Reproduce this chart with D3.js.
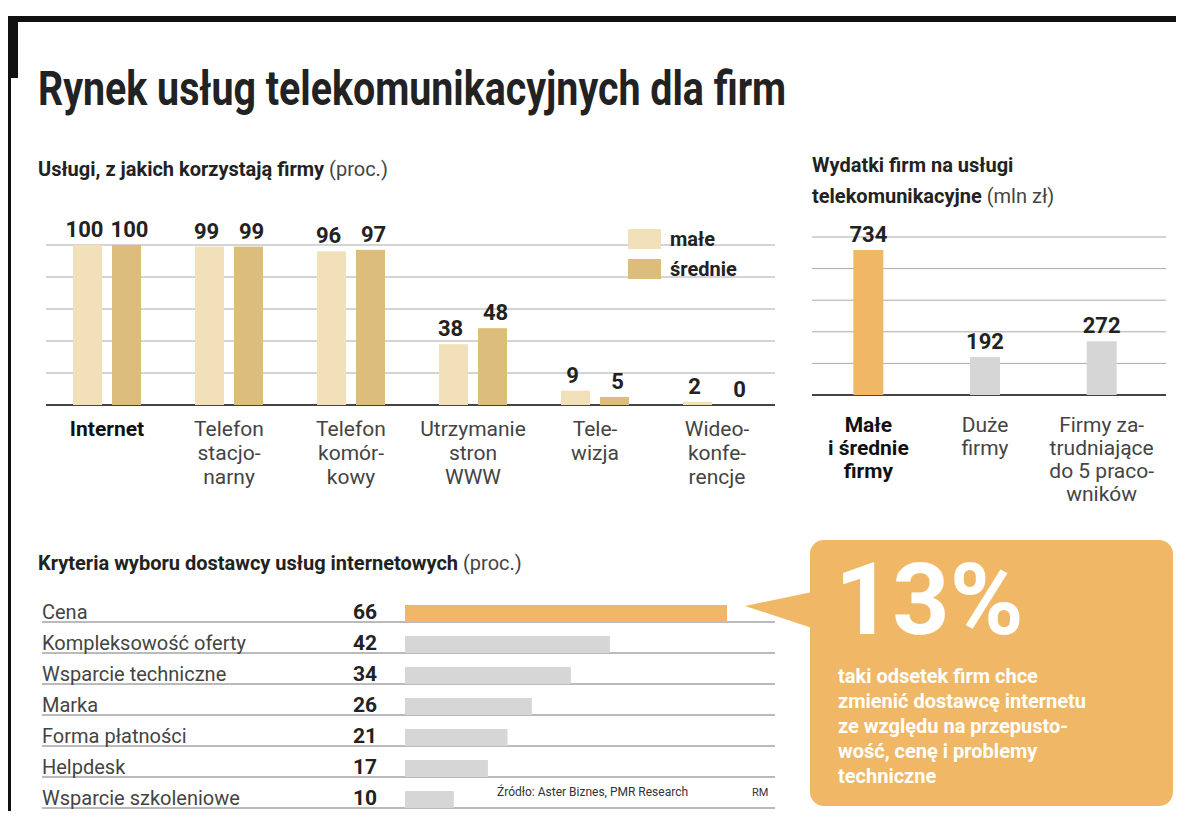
<!DOCTYPE html>
<html><head><meta charset="utf-8">
<script src="https://cdn.jsdelivr.net/npm/d3@7"></script>
<style>body{margin:0;background:#fff}text{font-family:"Roboto",sans-serif}</style>
</head><body>
<svg id="c" width="1200" height="816"></svg>
<script>
// dane
var services = [["Internet"], ["Telefon", "stacjo-", "narny"], ["Telefon", "komór-", "kowy"], ["Utrzymanie", "stron", "WWW"], ["Tele-", "wizja"], ["Wideo-", "konfe-", "rencje"]];
var smallFirms = [100, 99, 96, 38, 9, 2];
var mediumFirms = [100, 99, 97, 48, 5, 0];
var spendCats = [["Małe", "i średnie", "firmy"], ["Duże", "firmy"], ["Firmy za-", "trudniające", "do 5 praco-", "wników"]];
var spendValues = [734, 192, 272];
var criteria = ["Cena", "Kompleksowość oferty", "Wsparcie techniczne", "Marka", "Forma płatności", "Helpdesk", "Wsparcie szkoleniowe"];
var criteriaValues = [66, 42, 34, 26, 21, 17, 10];

var svg = d3.select("#c");
var F = "Roboto, sans-serif";

// ramka
svg.append("rect").attr("x", 8).attr("y", 16).attr("width", 1168).attr("height", 6).attr("fill", "#111");
svg.append("rect").attr("x", 8).attr("y", 16).attr("width", 10).attr("height", 62).attr("fill", "#111");
svg.append("rect").attr("x", 8).attr("y", 16).attr("width", 3).attr("height", 795).attr("fill", "#111");
svg.append("text").attr("transform", "translate(38,105) scale(0.82,1)").attr("font-size", 48).attr("font-weight", "bold")
    .style("font-family", F).attr("fill", "#222").text("Rynek usług telekomunikacyjnych dla firm");

function title(x, y, bold, light) {
    var t = svg.append("text").attr("x", x).attr("y", y).attr("font-size", 20).style("font-family", F).attr("fill", "#222");
    t.append("tspan").attr("font-weight", "bold").text(bold);
    if (light) t.append("tspan").attr("fill", "#444").text(light);
}

// wykres 1
title(38, 176, "Usługi, z jakich korzystają firmy ", "(proc.)");
var y1 = d3.scaleLinear().domain([0, 100]).range([405, 245]);
var x1 = d3.scaleBand().domain(d3.range(6)).range([46, 778]);
[0, 20, 40, 60, 80, 100].forEach(function (v) {
    svg.append("line").attr("x1", 46).attr("x2", 775).attr("y1", y1(v)).attr("y2", y1(v))
        .attr("stroke", v ? "#aaa" : "#444").attr("stroke-width", v ? 1 : 2);
});
var g1 = svg.append("g");
[[smallFirms, "#f1e0ba", -34], [mediumFirms, "#dcbd7c", 5]].forEach(function (s) {
    g1.selectAll(null).data(s[0]).enter().append("rect")
        .attr("x", function (d, i) { return x1(i) + x1.bandwidth() / 2 + s[2]; })
        .attr("y", function (d) { return y1(d); })
        .attr("width", 29).attr("height", function (d) { return 405 - y1(d); })
        .attr("fill", s[1]);
    g1.selectAll(null).data(s[0]).enter().append("text")
        .attr("x", function (d, i) { return x1(i) + x1.bandwidth() / 2 + s[2] + 14.5 + (s[2] < 0 ? -3 : 3); })
        .attr("y", function (d) { return y1(d) - 8; })
        .attr("text-anchor", "middle").attr("font-size", 22).attr("font-weight", "bold")
        .style("font-family", F).attr("fill", "#222").text(function (d) { return d; });
});
services.forEach(function (lines, i) {
    lines.forEach(function (l, k) {
        svg.append("text").attr("x", x1(i) + x1.bandwidth() / 2).attr("y", 436 + k * 24)
            .attr("text-anchor", "middle").attr("font-size", 21).style("font-family", F)
            .attr("font-weight", i === 0 ? "bold" : "normal").attr("fill", i === 0 ? "#111" : "#444").text(l);
    });
});
[["małe", "#f1e0ba", 229], ["średnie", "#dcbd7c", 259]].forEach(function (l) {
    svg.append("rect").attr("x", 628).attr("y", l[2]).attr("width", 33).attr("height", 20).attr("fill", l[1]);
    svg.append("text").attr("x", 670).attr("y", l[2] + 17).attr("font-size", 20).attr("font-weight", "bold")
        .style("font-family", F).attr("fill", "#222").text(l[0]);
});

// wykres 2
title(812, 172, "Wydatki firm na usługi");
title(812, 203, "telekomunikacyjne ", "(mln zł)");
var y2 = d3.scaleLinear().domain([0, 800]).range([395, 237]);
var x2 = d3.scaleBand().domain(d3.range(3)).range([810, 1160]);
d3.range(0, 801, 160).forEach(function (v) {
    svg.append("line").attr("x1", 812).attr("x2", 1166).attr("y1", y2(v)).attr("y2", y2(v))
        .attr("stroke", v ? "#aaa" : "#444").attr("stroke-width", v ? 1 : 2);
});
svg.selectAll(null).data(spendValues).enter().append("rect")
    .attr("x", function (d, i) { return x2(i) + x2.bandwidth() / 2 - 15; })
    .attr("y", function (d) { return y2(d); }).attr("width", 30)
    .attr("height", function (d) { return 395 - y2(d); })
    .attr("fill", function (d, i) { return i ? "#d6d6d6" : "#f0b866"; });
svg.selectAll(null).data(spendValues).enter().append("text")
    .attr("x", function (d, i) { return x2(i) + x2.bandwidth() / 2; })
    .attr("y", function (d) { return y2(d) - 8; }).attr("text-anchor", "middle")
    .attr("font-size", 22).attr("font-weight", "bold").style("font-family", F).attr("fill", "#222")
    .text(function (d) { return d; });
spendCats.forEach(function (lines, i) {
    lines.forEach(function (l, k) {
        svg.append("text").attr("x", x2(i) + x2.bandwidth() / 2).attr("y", 432 + k * 23)
            .attr("text-anchor", "middle").attr("font-size", 21).style("font-family", F)
            .attr("font-weight", i === 0 ? "bold" : "normal").attr("fill", i === 0 ? "#111" : "#444").text(l);
    });
});

// wykres 3
title(38, 570, "Kryteria wyboru dostawcy usług internetowych ", "(proc.)");
var y3 = d3.scaleBand().domain(d3.range(7)).range([597, 814]);
var x3 = d3.scaleLinear().domain([0, 66]).range([405, 727]);
criteria.forEach(function (c, i) {
    var y = y3(i), b = y + y3.bandwidth() - 6;
    svg.append("line").attr("x1", 42).attr("x2", 775).attr("y1", b).attr("y2", b).attr("stroke", "#777");
    svg.append("rect").attr("x", 405).attr("y", b - 17).attr("width", x3(criteriaValues[i]) - 405).attr("height", 17)
        .attr("fill", i ? "#d6d6d6" : "#f0b866");
    svg.append("text").attr("x", 42).attr("y", b - 3).attr("font-size", 20).style("font-family", F)
        .attr("fill", "#444").text(c);
    svg.append("text").attr("x", 377).attr("y", b - 3).attr("text-anchor", "end").attr("font-size", 21)
        .attr("font-weight", "bold").style("font-family", F).attr("fill", "#222").text(criteriaValues[i]);
});
svg.append("text").attr("x", 497).attr("y", 796).attr("font-size", 12).style("font-family", F).attr("fill", "#333")
    .text("Źródło: Aster Biznes, PMR Research");
svg.append("text").attr("x", 752).attr("y", 796).attr("font-size", 11).style("font-family", F).attr("fill", "#333").text("RM");

// dymek
svg.append("rect").attr("x", 810).attr("y", 540).attr("width", 363).attr("height", 266).attr("rx", 14).attr("fill", "#f0b866");
svg.append("path").attr("d", "M812,592 L745,606 L812,628 Z").attr("fill", "#f0b866");
svg.append("text").attr("x", 835).attr("y", 634).attr("font-size", 100).attr("font-weight", "bold")
    .style("font-family", F).attr("fill", "#fff").text("13%");
["taki odsetek firm chce", "zmienić dostawcę internetu", "ze względu na przepusto-", "wość, cenę i problemy", "techniczne"]
    .forEach(function (l, k) {
        svg.append("text").attr("x", 838).attr("y", 683 + k * 25).attr("font-size", 20).attr("font-weight", "bold")
            .style("font-family", F).attr("fill", "#fff").text(l);
    });
</script>
</body></html>
